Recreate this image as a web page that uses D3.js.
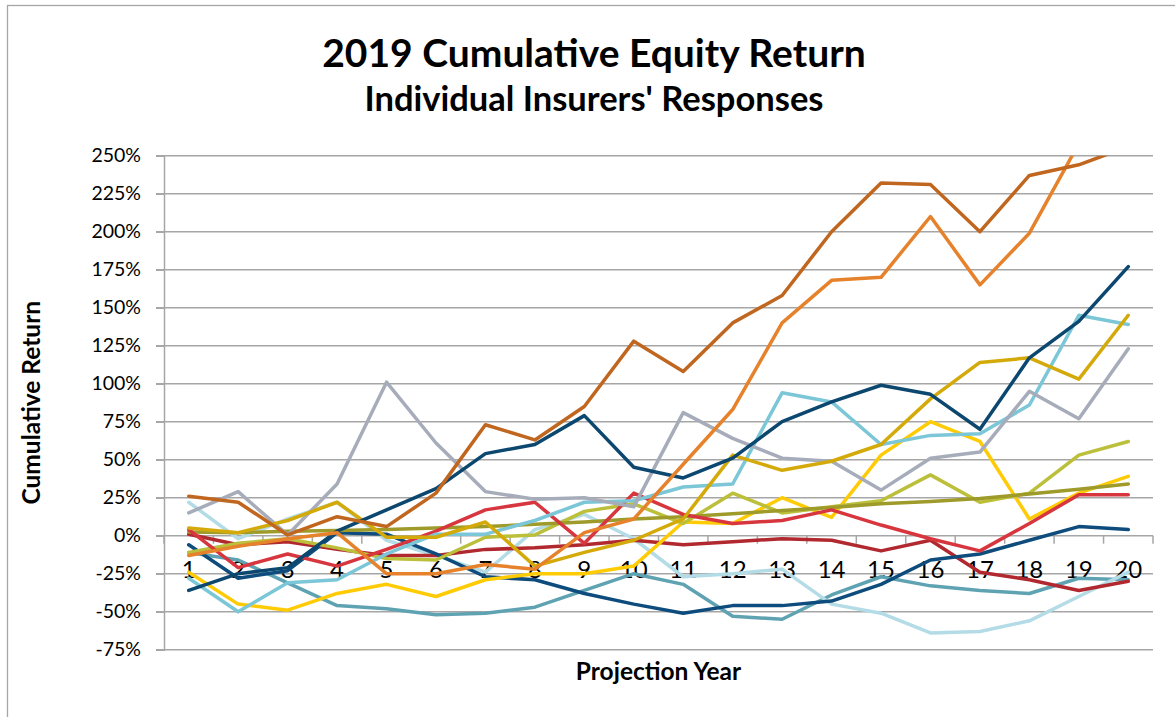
<!DOCTYPE html>
<html>
<head>
<meta charset="utf-8">
<script src="https://cdn.jsdelivr.net/npm/d3@7"></script>
<style>
    body { margin: 0; background: #fff; }
    svg { display: block; font-family: Lato, "Open Sans", sans-serif; }
</style>
</head>
<body>
<div id="chart"></div>
<script>
const years = d3.range(1, 21).map(String);
const yTicks = [-75, -50, -25, 0, 25, 50, 75, 100, 125, 150, 175, 200, 225, 250];

// one array per insurer, cumulative return in % for projection years 1..20
const brown     = [26, 22, 0.5, 12.5, 6, 28, 73, 63, 85, 128, 108, 140, 158, 200, 232, 231, 200, 237, 244, 256];
const orange    = [-13, -7, -2, 2, -25, -25, -19, -22, 2, 11, 47, 83, 140, 168, 170, 210, 165, 199, 258, 300];
const navy      = [-36, -25, -21, 3, 17, 31, 54, 60, 79, 45, 38, 51, 75, 88, 99, 93, 70, 117, 141, 177];
const gold      = [5, 2, 10, 22, -1, -1, 9, -20, -11, -3, 11, 53, 43, 49, 60, 90, 114, 117, 103, 145];
const cyan      = [-28, -50, -31, -29, -12, 1, 1, 10, 22, 23, 32, 34, 94, 88, 60, 66, 67, 86, 145, 139];
const grey      = [15, 29, 0.5, 34, 101, 61, 29, 24, 25, 19, 81, 64, 51, 49, 30, 51, 55, 95, 77, 123];
const yellow    = [-24, -45, -49, -38, -32, -40, -29, -25, -25, -20, 9, 8, 25, 12, 53, 75, 62, 11, 28, 39];
const lime      = [-11, -5, -2, -8, -15, -16, -1, 0.5, 16, 21, 8, 28, 15, 19, 23, 40, 22, 28, 53, 62];
const olive     = [2.5, 2, 3, 3.5, 4, 5, 6, 7.5, 9, 11, 12.5, 14.5, 16.5, 18.5, 21, 22.5, 24.5, 27.5, 30.5, 34];
const red       = [4, -21, -12, -20, -9, 3, 17, 22, -5, 28, 14, 8, 10, 17, 7, -2, -10, 8, 27, 27];
const darkRed   = [1, -6, -4, -9, -13, -13, -9, -8, -6, -3, -6, -4, -2, -3, -10, -3, -24, -29, -36, -30];
const navy2     = [-6, -28, -23, 2, 1, -12, -27, -29, -38, -45, -51, -46, -46, -43, -32, -16, -12, -3, 6, 4];
const teal      = [-11, -16, -31, -46, -48, -52, -51, -47, -36, -25, -32, -53, -55, -39, -27, -33, -36, -38, -28, -29];
const paleBlue  = [22, -2, 11, 22, -3, -13, -24, 4, 14, -2, -27, -25, -22, -45, -51, -64, -63, -56, -40, -24];

const series = [
    { name: "teal", values: teal, colour: "#5FA3B3" },
    { name: "paleBlue", values: paleBlue, colour: "#B3DCE6" },
    { name: "darkRed", values: darkRed, colour: "#B1282F" },
    { name: "navy2", values: navy2, colour: "#0D4C7C" },
    { name: "yellow", values: yellow, colour: "#FFCB05" },
    { name: "lime", values: lime, colour: "#BBBF3A" },
    { name: "olive", values: olive, colour: "#9E9B2A" },
    { name: "red", values: red, colour: "#D8363F" },
    { name: "cyan", values: cyan, colour: "#7BC6D7" },
    { name: "grey", values: grey, colour: "#A6ACB9" },
    { name: "gold", values: gold, colour: "#D4AA0B" },
    { name: "navy", values: navy, colour: "#0B476E" },
    { name: "orange", values: orange, colour: "#E6822B" },
    { name: "brown", values: brown, colour: "#C0661F" }
];

const width = 1175, height = 717;
const plot = { left: 164, right: 1153, top: 155.7, bottom: 649.7 };

const svg = d3.select("#chart").append("svg")
    .attr("width", width)
    .attr("height", height);

// chart frame
svg.append("rect")
    .attr("x", 7.5)
    .attr("y", 5.5)
    .attr("width", width + 10)
    .attr("height", height + 10)
    .attr("fill", "none")
    .attr("stroke", "#A6A6A6")
    .attr("stroke-width", 1.3);

const x = d3.scaleBand()
    .domain(years)
    .range([plot.left, plot.right])
    .padding(0);

const y = d3.scaleLinear()
    .domain([-75, 250])
    .range([plot.bottom, plot.top]);

// gridlines
svg.append("g")
    .selectAll("line")
    .data(yTicks)
    .enter().append("line")
    .attr("x1", plot.left - 8)
    .attr("x2", plot.right)
    .attr("y1", d => y(d))
    .attr("y2", d => y(d))
    .attr("stroke", "#A6A6A6")
    .attr("stroke-width", 1.5);

// y axis
const yAxisGroup = svg.append("g")
    .attr("transform", `translate(${plot.left},0)`)
    .call(d3.axisLeft(y).tickValues(yTicks).tickFormat(d => d + "%").tickSize(8).tickPadding(15));

yAxisGroup.select(".domain").attr("stroke", "#A6A6A6").attr("stroke-width", 1.5);
yAxisGroup.selectAll(".tick line").attr("stroke", "#A6A6A6").attr("stroke-width", 1.5);
yAxisGroup.selectAll("text")
    .style("font-family", "Lato, sans-serif")
    .style("font-size", "19.5px")
    .style("fill", "#000");

// x axis sits on 0%, ticks between categories
const xAxisGroup = svg.append("g")
    .attr("transform", `translate(0,${y(0)})`)
    .call(d3.axisBottom(x).tickSize(0).tickPadding(25));

xAxisGroup.select(".domain").remove();
xAxisGroup.selectAll("text")
    .style("font-family", "Lato, sans-serif")
    .style("font-size", "24px")
    .style("fill", "#000");

xAxisGroup.selectAll(".edge")
    .data(years.map(d => x(d)).concat([plot.right]))
    .enter().append("line")
    .attr("class", "edge")
    .attr("x1", d => d)
    .attr("x2", d => d)
    .attr("y1", 0)
    .attr("y2", 8)
    .attr("stroke", "#A6A6A6")
    .attr("stroke-width", 1.5);

// lines, clipped to the plot area
svg.append("clipPath")
    .attr("id", "plot-clip")
    .append("rect")
    .attr("x", plot.left)
    .attr("y", plot.top)
    .attr("width", plot.right - plot.left)
    .attr("height", plot.bottom - plot.top);

const line = d3.line()
    .x((d, i) => x(years[i]) + x.bandwidth() / 2)
    .y(d => y(d));

svg.append("g")
    .attr("clip-path", "url(#plot-clip)")
    .selectAll(".series")
    .data(series)
    .enter().append("path")
    .attr("class", "series")
    .attr("d", d => line(d.values))
    .attr("fill", "none")
    .attr("stroke", d => d.colour)
    .attr("stroke-width", 3.5)
    .attr("stroke-linejoin", "round")
    .attr("stroke-linecap", "round");

// titles
svg.append("text")
    .attr("x", 594)
    .attr("y", 67)
    .style("text-anchor", "middle")
    .style("font-family", "Lato, sans-serif")
    .style("font-weight", "bold")
    .style("font-size", "39px")
    .text("2019 Cumulative Equity Return");

svg.append("text")
    .attr("x", 594)
    .attr("y", 111)
    .style("text-anchor", "middle")
    .style("font-family", "Lato, sans-serif")
    .style("font-weight", "bold")
    .style("font-size", "34.5px")
    .text("Individual Insurers' Responses");

svg.append("text")
    .attr("transform", "rotate(-90)")
    .attr("x", -(plot.top + plot.bottom) / 2)
    .attr("y", 40)
    .style("text-anchor", "middle")
    .style("font-family", "Lato, sans-serif")
    .style("font-weight", "bold")
    .style("font-size", "24.5px")
    .text("Cumulative Return");

svg.append("text")
    .attr("x", (plot.left + plot.right) / 2)
    .attr("y", 680)
    .style("text-anchor", "middle")
    .style("font-family", "Lato, sans-serif")
    .style("font-weight", "bold")
    .style("font-size", "24.5px")
    .text("Projection Year");
</script>
</body>
</html>
